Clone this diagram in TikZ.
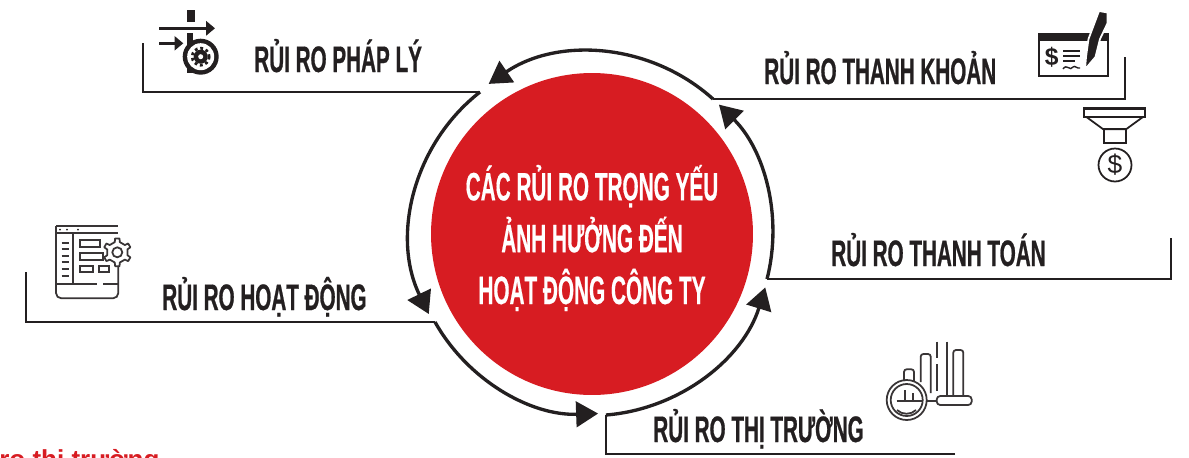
\documentclass[tikz,border=0pt]{standalone}
\usepackage{fontspec}
\usepackage{xcolor}
\usetikzlibrary{arrows.meta}
\setmainfont{Liberation Sans}
\newfontfamily\riskfont[FakeStretch=0.56,FakeBold=0.6]{Liberation Sans}
\newfontfamily\corefont[FakeStretch=0.525,FakeBold=0.4]{Liberation Sans}
\definecolor{riskred}{HTML}{D71C22}
\definecolor{riskink}{HTML}{231F20}
\tikzset{
  risklabel/.style={anchor=base west,inner sep=0pt,text=riskink,font=\riskfont\bfseries\fontsize{21}{21}\selectfont},
  leader/.style={draw=riskink,line width=1.25pt,line join=miter},
  ringarc/.style={draw=riskink,line width=1.9pt,-{Triangle[length=12.5pt,width=14.5pt,fill=riskink]}},
  iconline/.style={draw=riskink!90,line width=1pt},
}

\begin{document}
\begin{tikzpicture}[x=0.02cm,y=-0.02cm]
        \clip (0,0) rectangle (1189,457);
        \fill[white] (0,0) rectangle (1189,457);

        % Drawing the centre disc
        \node[circle,fill=riskred,minimum size=6.44cm,inner sep=0pt] (core) at (592,234) {};
        \node[inner sep=0pt,text=white,align=center,
              font=\corefont\bfseries\fontsize{22.5}{29.5}\selectfont] (coretext) at (592,238)
              {CÁC RỦI RO TRỌNG YẾU\\ẢNH HƯỞNG ĐẾN\\HOẠT ĐỘNG CÔNG TY};

        % Leaders
        \coordinate (legalstart) at (143,43);
        \coordinate (legalend) at (480,92);
        \coordinate (liquidstart) at (1125,57);
        \coordinate (liquidend) at (713,99);
        \coordinate (paystart) at (1171,238);
        \coordinate (payend) at (767,279);
        \coordinate (opsstart) at (26,272);
        \coordinate (opsend) at (435,322);
        \coordinate (marketstart) at (955,454);
        \coordinate (marketend) at (606,415);
        \draw[leader] (legalstart) |- (legalend);
        \draw[leader] (liquidstart) |- (liquidend);
        \draw[leader] (paystart) |- (payend);
        \draw[leader] (opsstart) |- (opsend);
        \draw[leader] (marketstart) -| (marketend);

        % Drawing the ring
        \draw[ringarc] (liquidend) arc[start angle=-48,end angle=-124.3,radius=182];
        \draw[ringarc] (legalend) arc[start angle=-128,end angle=-206,radius=181];
        \draw[ringarc] (opsend) arc[start angle=-209.4,end angle=-272,radius=180];
        \draw[ringarc] (marketend) arc[start angle=-274.6,end angle=-342.8,radius=182];
        \draw[ringarc] (payend) arc[start angle=-345.6,end angle=-405.2,radius=182];

        % Labels
        \node[risklabel] (legal) at (254,72) {RỦI RO PHÁP LÝ};
        \node[risklabel] (liquid) at (764,84) {RỦI RO THANH KHOẢN};
        \node[risklabel] (pay) at (831,266) {RỦI RO THANH TOÁN};
        \node[risklabel] (ops) at (162,310) {RỦI RO HOẠT ĐỘNG};
        \node[risklabel] (market) at (653,442) {RỦI RO THỊ TRƯỜNG};
        \node[anchor=base west,inner sep=0pt,text=riskred,font=\bfseries\fontsize{14.8}{14.8}\selectfont] (caption) at (-1,468) {ro thị trường};

        % Legal icon
        \fill[riskink] (187.3,10) rectangle (194.7,21.7);
        \draw[riskink,line width=1.8pt,-{Triangle[length=5pt,width=8pt]}] (159.3,28.3) -- (215,28.3);
        \draw[riskink,line width=1.8pt,-{Triangle[length=5pt,width=8pt]}] (159.3,43.3) -- (183.3,43.3);
        \fill[riskink] (187.3,33.3) rectangle (193.3,73);
        \fill[riskink] (200.7,56.7) circle (18);
        \fill[white] (200.7,56.7) circle (13.5);
        \fill[riskink] (200.7,56.7) circle (7);
        \draw[riskink,line width=1.6pt,dash pattern=on 1.6pt off 1.6pt] (200.7,56.7) circle (8.5);
        \fill[white] (200.7,56.7) circle (2.5);

        % Cheque icon
        \draw[riskink,line width=1.2pt] (1039.3,34) rectangle (1108.3,76);
        \fill[riskink] (1039.3,33.3) rectangle (1108.3,40.7);
        \node[inner sep=0pt,text=riskink,font=\bfseries\fontsize{14}{14}\selectfont] (chequesign) at (1051.7,57) {\$};
        \draw[riskink,line width=1pt] (1063,51) -- (1080,51);
        \draw[riskink,line width=1pt] (1063,56) -- (1080,56);
        \draw[riskink,line width=1pt] (1063,61) -- (1075,61);
        \draw[riskink,line width=.8pt] (1063,69) .. controls (1067,63) and (1070,72) .. (1073,67) .. controls (1075,65) and (1077,69) .. (1080,68);
        \filldraw[fill=riskink,draw=white,line width=1pt] (1085,69.3) -- (1086,57) -- (1088.5,39) -- (1099,11) -- (1107.5,12.5) -- (1107.5,23.3) -- (1100,39) -- (1095.5,57) -- cycle;

        % Funnel icon
        \fill[riskink] (1084,106.7) rectangle (1145,110);
        \draw[riskink,line width=1pt] (1084,108) rectangle (1145,116.7);
        \draw[riskink,line width=1pt] (1086,116.7) -- (1103.3,129.3) -- (1126,129.3) -- (1143.3,116.7);
        \draw[riskink,line width=1pt] (1104,129.3) rectangle (1126,143.3);
        \node[circle,draw=riskink,line width=1pt,minimum size=0.66cm,inner sep=0pt,text=riskink,font=\fontsize{15}{15}\selectfont] (funnelsign) at (1115,165) {\$};

        % Operations icon
        \draw[iconline,rounded corners=3pt] (56,226) -- (56,298.3) -- (118.3,298.3) -- (118.3,266);
        \draw[iconline] (56,226) -- (118.3,226);
        \draw[iconline] (56,233.3) -- (118.3,233.3);
        \fill[riskink] (60,229.5) circle (1) (67,229.5) circle (1) (78,229.5) circle (1);
        \draw[iconline] (73.3,233.3) -- (73.3,284);
        \draw[iconline] (61.7,243.3) -- (69.3,243.3);
        \draw[iconline] (61.7,249.3) -- (69.3,249.3);
        \draw[iconline] (61.7,255.7) -- (69.3,255.7);
        \draw[iconline] (61.7,262.3) -- (69.3,262.3);
        \draw[iconline] (61.7,269) -- (69.3,269);
        \draw[iconline] (61.7,276) -- (69.3,276);
        \draw[iconline] (80,240) rectangle (100,246.7);
        \draw[iconline] (80,253.3) rectangle (103,260);
        \draw[iconline] (80,265.7) rectangle (92.7,272.3);
        \draw[iconline] (99.3,265.7) rectangle (109.3,272.3);
        \draw[iconline] (56,284.3) -- (96.7,284.3);
        \draw[iconline] (103.3,284.3) -- (118.3,284.3);
        \draw[iconline,fill=white,line join=round,shift={(117.3,252.3)}] (16:10.5)
          \foreach \a in {30,90,150,210,270,330} { -- (\a-14:10.5) -- (\a-9:14) -- (\a+9:14) -- (\a+14:10.5)} -- cycle;
        \draw[iconline] (117.3,252.3) circle (5);

        % Market icon
        \draw[iconline,rounded corners=1.5pt] (904,381) -- (904,369.3) -- (914,369.3) -- (914,381);
        \draw[iconline,rounded corners=1.5pt] (920.7,382) -- (920.7,354) -- (930.7,354) -- (930.7,393);
        \draw[iconline] (936.7,341.7) -- (936.7,358);
        \draw[iconline] (936.7,364) -- (936.7,391);
        \draw[iconline] (946.7,341.7) -- (946.7,396);
        \draw[iconline,rounded corners=1.5pt] (953.3,396) -- (953.3,350) -- (963.3,350) -- (963.3,396);
        \draw[iconline,rounded corners=2pt] (936.7,396) rectangle (971.7,405);
        \draw[iconline] (926.7,400.7) -- (936.7,400.7);
        \draw[iconline] (906.7,400) circle (20);
        \draw[iconline] (906.7,400) circle (16);
        \draw[iconline] (896.7,400.7) -- (922,400.7);
        \draw[iconline] (905,390) -- (905,400.7);
        \draw[iconline] (913.3,393) -- (913.3,400.7);
        \draw[iconline] (897,410) .. controls (902,415) and (911,415) .. (916,410);
    \end{tikzpicture}
\end{document}
